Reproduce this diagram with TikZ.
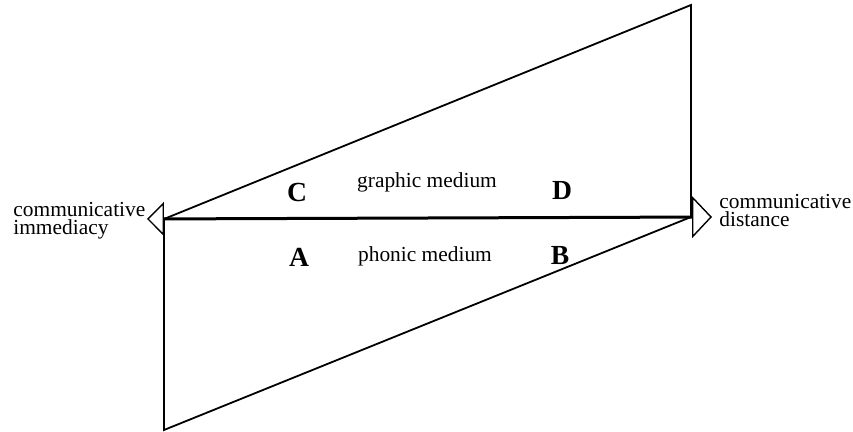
\documentclass[tikz,border=0pt]{standalone}
\usepackage{fontspec}
\setmainfont{Liberation Serif}
\usetikzlibrary{arrows.meta,positioning,calc}

\begin{document}
\begin{tikzpicture}[x=0.5pt,y=-0.5pt,
    edge/.style={line width=0.9pt, line join=miter},
    axis/.style={line width=1.5pt},
    txt/.style={font=\fontsize{10.7}{9}\selectfont, inner sep=0pt},
    field/.style={font=\fontsize{13.8}{14}\selectfont\bfseries, inner sep=0pt, anchor=base}]
    \useasboundingbox (0,0) rectangle (853,432);

    % corners of the two triangles
    \coordinate (imm) at (164,219);
    \coordinate (dist) at (691,217);
    \coordinate (top) at (691,5);
    \coordinate (bot) at (164,430);
    \coordinate (immtip) at (147,219);
    \coordinate (disttip) at (712,217);

    \draw[edge] (imm) -- (top) -- (dist);
    \draw[edge] (imm) -- (bot) -- (dist);
    \draw[axis, {Triangle[open, length=8.5pt, width=17pt, line width=0.7pt]}-{Triangle[open, length=10pt, width=21pt, line width=0.7pt]}]
        (immtip) -- (disttip);

    \node[txt, align=left, anchor=west] (immlabel) at (13,221) {communicative\\immediacy};
    \node[txt, align=left, anchor=west] (distlabel) at (719,211) {communicative\\distance};

    \node[field] (C) at (297,202) {C};
    \node[field] (D) at (562,200) {D};
    \node[field] (A) at (299,267) {A};
    \node[field] (B) at (560,265) {B};
    \node[txt, anchor=base] (graphic) at (427,188) {graphic medium};
    \node[txt, anchor=base] (phonic) at (425,262) {phonic medium};
\end{tikzpicture}
\end{document}
